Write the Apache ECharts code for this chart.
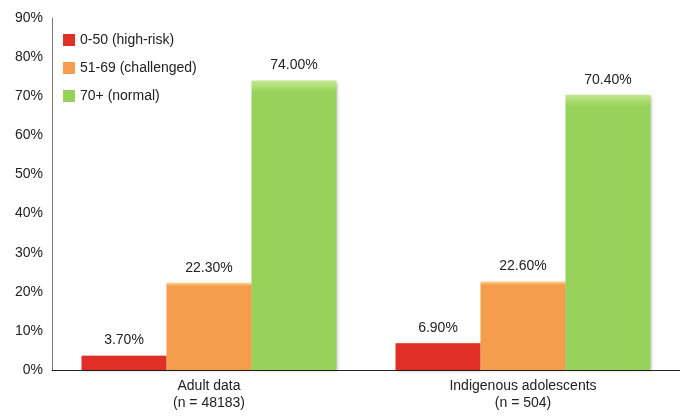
<!DOCTYPE html>
<html>
<head>
<meta charset="utf-8">
<script src="https://cdn.jsdelivr.net/npm/echarts@6/dist/echarts.min.js"></script>
<style>
  html, body { margin: 0; padding: 0; background: #fff; }
  #chart { width: 680px; height: 418px; }
</style>
</head>
<body>
<div id="chart"></div>
<script>
const categories = ['Adult data\n(n = 48183)', 'Indigenous adolescents\n(n = 504)']
const seriesNames = ['0-50 (high-risk)', '51-69 (challenged)', '70+ (normal)']
const highRisk = [3.7, 6.9]
const challenged = [22.3, 22.6]
const normal = [74.0, 70.4]

const colors = ['#df2f26', '#f59d4c', '#97d35a']
const tops = ['#f07a6c', '#fdd58e', '#c4e890']

function grad(i) {
  return new echarts.graphic.LinearGradient(0, 0, 0, 1, [
    { offset: 0, color: tops[i] },
    { offset: 0.04, color: colors[i] },
    { offset: 1, color: colors[i] }
  ])
}

function makeSeries(name, data, i) {
  return {
    name: name,
    type: 'bar',
    data: data,
    barWidth: 85,
    barGap: '0%',
    itemStyle: {
      color: grad(i),
      shadowColor: 'rgba(0,0,0,0.25)',
      shadowBlur: 3,
      shadowOffsetX: 1,
      shadowOffsetY: 1
    },
    label: {
      show: true,
      position: 'top',
      distance: 8,
      color: '#222',
      fontSize: 14,
      fontFamily: 'Liberation Sans',
      formatter: (p) => p.value.toFixed(2) + '%'
    }
  }
}

const chart = echarts.init(document.getElementById('chart'))
chart.setOption({
  animation: false,
  textStyle: { fontFamily: 'Liberation Sans' },
  grid: { left: 52, top: 18, width: 637, bottom: 48, containLabel: false },
  legend: {
    orient: 'vertical',
    left: 58,
    top: 28,
    itemWidth: 12,
    itemHeight: 12,
    itemGap: 14,
    icon: 'rect',
    data: seriesNames.map((n, i) => ({ name: n, itemStyle: { color: colors[i] } })),
    textStyle: { fontSize: 14, color: '#222' }
  },
  xAxis: {
    type: 'category',
    data: categories,
    axisLine: { lineStyle: { color: '#222', width: 1 } },
    axisTick: { show: false },
    axisLabel: { fontSize: 14, color: '#222', lineHeight: 17, margin: 8 }
  },
  yAxis: {
    type: 'value',
    min: 0,
    max: 90,
    interval: 10,
    axisLine: { show: true, lineStyle: { color: '#777' } },
    axisTick: { show: false },
    splitLine: { show: false },
    axisLabel: { formatter: '{value}%', fontSize: 14, color: '#222', margin: 9 }
  },
  series: [
    makeSeries(seriesNames[0], highRisk, 0),
    makeSeries(seriesNames[1], challenged, 1),
    makeSeries(seriesNames[2], normal, 2)
  ]
})
</script>
</body>
</html>
